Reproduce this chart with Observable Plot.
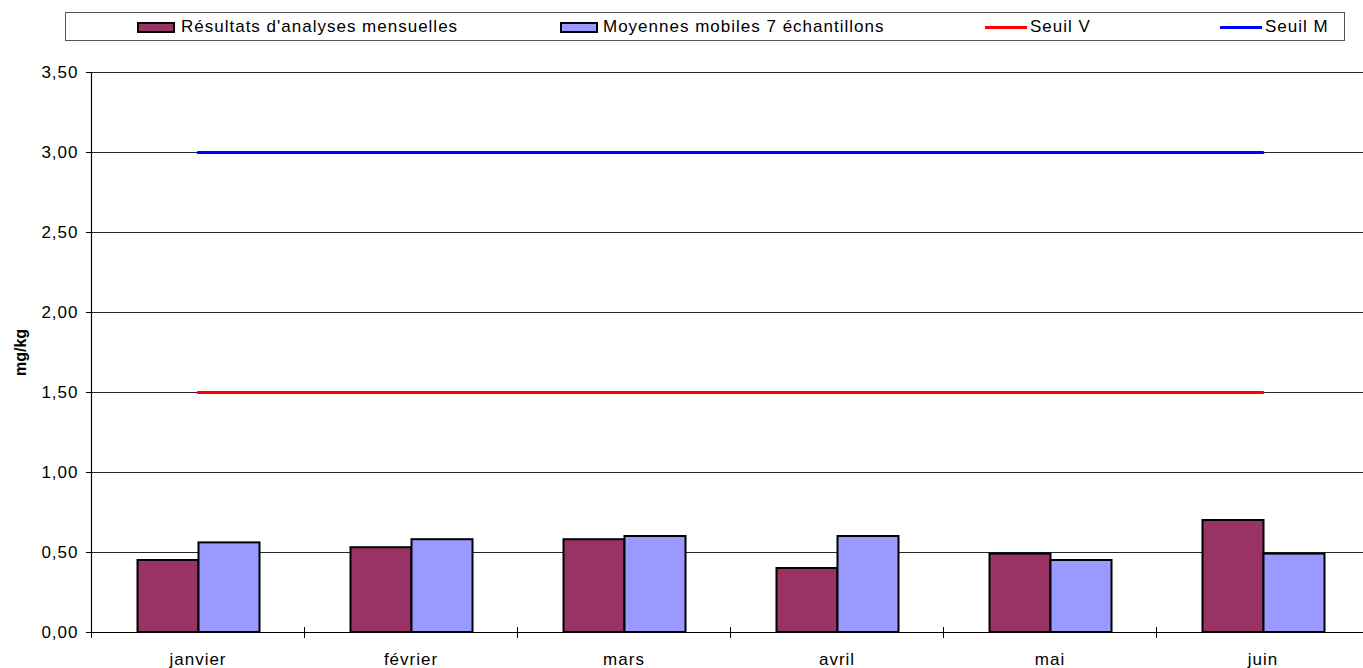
<!DOCTYPE html>
<html>
<head>
<meta charset="utf-8">
<script src="https://cdn.jsdelivr.net/npm/d3@7"></script>
<script src="https://cdn.jsdelivr.net/npm/@observablehq/plot@0.6"></script>
<style>
  html, body { margin: 0; padding: 0; background: #fff; overflow: hidden; }
  #wrap { position: relative; width: 1363px; height: 668px; overflow: hidden; }
  #legend { position: absolute; left: 65px; top: 12px; width: 1280px; height: 29px; border: 1px solid #555; box-sizing: border-box; background: #fff; }
  .lg { position: absolute; font-family: "Liberation Sans", Arial, sans-serif; font-size: 17px; letter-spacing: 1px; color: #000; line-height: 20px; top: 17px; white-space: nowrap; }
  .sw { position: absolute; box-sizing: border-box; border: 2px solid #000; width: 38px; height: 11px; top: 22px; }
  .ln { position: absolute; height: 3px; width: 42px; top: 25.5px; }
  #chart { position: absolute; left: 0; top: 0; width: 1369px; }
  #chart svg { max-width: none !important; }
  g[aria-label="text"] text { letter-spacing: 0; }
</style>
</head>
<body>
<div id="wrap">
  <div id="chart"></div>
  <div id="legendLayer"></div>
</div>
<script>
// ---- data ----
const months = ["janvier", "février", "mars", "avril", "mai", "juin"];
const resultats = [0.45, 0.53, 0.58, 0.40, 0.49, 0.70];
const moyennes = [0.56, 0.58, 0.60, 0.60, 0.45, 0.49];
const seuilV = [1.5, 1.5, 1.5, 1.5, 1.5, 1.5];
const seuilM = [3.0, 3.0, 3.0, 3.0, 3.0, 3.0];
const yTicks = [0, 0.5, 1.0, 1.5, 2.0, 2.5, 3.0, 3.5];
const seriesNames = ["Résultats d'analyses mensuelles", "Moyennes mobiles 7 échantillons", "Seuil V", "Seuil M"];
const colors = ["#993366", "#9999FF", "#FF0000", "#0000FF"];

// ---- build tables ----
const rowsR = months.map((m, i) => ({month: m, value: resultats[i]}));
const rowsM = months.map((m, i) => ({month: m, value: moyennes[i]}));
const rowsV = months.map((m, i) => ({month: m, value: seuilV[i]}));
const rowsS = months.map((m, i) => ({month: m, value: seuilM[i]}));

const W = 1369, marginLeft = 91, marginRight = 0;
const bw = (W - marginLeft - marginRight) / months.length; // band width
const barW = 61;
const outer = (bw - 2 * barW) / 2 + 1;

const chart = Plot.plot({
  width: W,
  height: 668,
  marginTop: 72,
  marginBottom: 36,
  marginLeft: marginLeft,
  marginRight: marginRight,
  style: {fontFamily: "'Liberation Sans', Arial, sans-serif", fontSize: "17px", letterSpacing: "1px", color: "#000", background: "#fff", maxWidth: "none"},
  x: {domain: months, padding: 0, axis: null},
  y: {domain: [0, 3.5], axis: null},
  marks: [
    Plot.gridY(yTicks, {stroke: "#000", strokeOpacity: 0.85, strokeWidth: 1}),
    Plot.barY(rowsR, {x: "month", y: "value", fill: colors[0], stroke: "#000", strokeWidth: 2, insetLeft: outer, insetRight: bw - outer - barW}),
    Plot.barY(rowsM, {x: "month", y: "value", fill: colors[1], stroke: "#000", strokeWidth: 2, insetLeft: outer + barW, insetRight: bw - outer - 2 * barW}),
    Plot.line(rowsV, {x: "month", y: "value", stroke: colors[2], strokeWidth: 3}),
    Plot.line(rowsS, {x: "month", y: "value", stroke: colors[3], strokeWidth: 3}),
    Plot.ruleY([0], {stroke: "#000", strokeWidth: 1.2}),
    Plot.ruleX([months[0]], {x: d => d, dx: -bw / 2, stroke: "#000", strokeWidth: 1.2}),
    Plot.tickX(months, {x: d => d, dx: -bw / 2, stroke: "#000", strokeWidth: 1, insetTop: 555, insetBottom: -6}),
    Plot.axisY(yTicks, {tickSize: 5, tickPadding: 8, tickFormat: d => d.toFixed(2).replace(".", ","), label: null}),
    Plot.axisX({tickSize: 0, tickPadding: 20, label: null}),
    Plot.text(["mg/kg"], {frameAnchor: "left", dx: -71, rotate: -90, fontWeight: "bold", fontSize: 16, textAnchor: "middle", lineAnchor: "middle"})
  ]
});
document.getElementById("chart").appendChild(chart);

// ---- legend (HTML, above the SVG) ----
const legend = document.createElement("div");
legend.id = "legend";
document.getElementById("legendLayer").appendChild(legend);
const layer = document.getElementById("legendLayer");
const items = [
  {type: "sw", x: 137, tx: 181},
  {type: "sw", x: 560, tx: 603},
  {type: "ln", x: 985, tx: 1030},
  {type: "ln", x: 1220, tx: 1265}
];
items.forEach((it, i) => {
  const s = document.createElement("div");
  s.className = it.type;
  s.style.left = it.x + "px";
  s.style.background = colors[i];
  layer.appendChild(s);
  const t = document.createElement("div");
  t.className = "lg";
  t.style.left = it.tx + "px";
  t.textContent = seriesNames[i];
  layer.appendChild(t);
});
</script>
</body>
</html>
